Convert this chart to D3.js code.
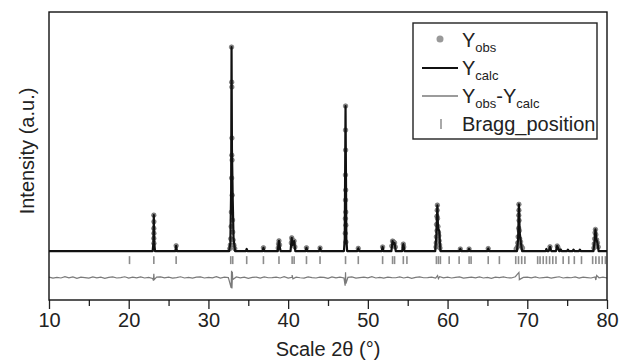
<!DOCTYPE html>
<html>
<head>
<meta charset="utf-8">
<script src="https://cdn.jsdelivr.net/npm/d3@7"></script>
<style>
  body { margin: 0; background: #fff; }
  svg { font-family: "Liberation Sans", Arial, sans-serif; }
</style>
</head>
<body>
<div id="chart"></div>
<script>
// Rietveld refinement plot: observed dots, calculated profile, difference, Bragg marks

// calculated profile [2theta, intensity]
const calcPoints = [
  [10, 0],
  [23.0, 0], [23.1, 40], [23.15, 176], [23.2, 40], [23.3, 0],
  [25.85, 0], [25.95, 26], [26.05, 0],
  [32.6, 0], [32.75, 40], [32.85, 300], [32.9, 1000], [32.95, 500], [33.05, 250], [33.15, 60], [33.35, 0],
  [34.7, 0], [34.8, 10], [34.9, 0],
  [36.8, 0], [36.9, 16], [37.0, 0],
  [38.7, 0], [38.8, 35], [38.85, 50], [38.95, 20], [39.05, 0],
  [40.3, 0], [40.45, 65], [40.55, 30], [40.75, 49], [40.9, 0],
  [42.2, 0], [42.3, 16], [42.4, 0],
  [43.9, 0], [44.0, 15], [44.1, 0],
  [47.0, 0], [47.1, 60], [47.2, 711], [47.3, 60], [47.4, 0],
  [48.7, 0], [48.8, 13], [48.9, 0],
  [51.75, 0], [51.85, 20], [51.95, 0],
  [52.95, 0], [53.1, 49], [53.2, 35], [53.35, 40], [53.5, 0],
  [54.3, 0], [54.45, 34], [54.6, 0],
  [58.45, 0], [58.6, 80], [58.72, 224], [58.8, 110], [58.95, 100], [59.1, 0],
  [61.5, 0], [61.6, 10], [61.7, 0],
  [62.6, 0], [62.7, 10], [62.8, 0],
  [65.0, 0], [65.1, 12], [65.2, 0],
  [68.7, 0], [68.85, 60], [68.95, 229], [69.05, 90], [69.2, 40], [69.35, 0],
  [72.3, 0], [72.4, 10], [72.5, 0],
  [72.7, 0], [72.85, 21], [73.0, 0],
  [73.6, 0], [73.75, 25], [73.9, 10], [74.0, 0],
  [74.1, 0], [74.2, 8], [74.3, 0],
  [75.0, 0], [75.1, 7], [75.2, 0],
  [75.7, 0], [75.8, 7], [75.9, 0],
  [76.5, 0], [76.6, 7], [76.7, 0],
  [78.3, 0], [78.45, 50], [78.55, 106], [78.65, 60], [78.8, 40], [78.95, 0],
  [80, 0]
];

// observed points that stand out of the line
const obsPoints = [
  [23.15, 176], [23.16, 144], [23.15, 111], [23.16, 87], [23.15, 62], [23.16, 38],
  [25.95, 26],
  [32.9, 1000], [32.92, 828], [32.94, 804], [32.95, 554], [32.93, 470], [32.97, 446],
  [32.91, 358], [32.98, 274], [32.88, 191], [33.02, 152], [32.85, 120], [33.05, 93],
  [32.8, 60], [33.1, 54], [32.75, 30], [33.2, 29], [32.68, 12], [33.3, 12],
  [36.9, 16], [38.85, 50], [38.8, 35], [38.92, 30], [38.75, 15],
  [40.45, 65], [40.5, 55], [40.4, 40], [40.75, 49], [40.7, 35], [40.6, 30], [40.85, 20],
  [42.3, 16], [44.0, 15],
  [47.2, 711], [47.2, 593], [47.21, 495], [47.19, 373], [47.22, 299], [47.2, 250],
  [47.23, 191], [47.18, 159], [47.24, 127], [47.17, 87], [47.25, 44],
  [48.8, 13], [51.85, 20],
  [53.1, 49], [53.2, 45], [53.35, 40], [53.0, 25], [53.45, 20], [54.45, 34], [54.5, 20],
  [58.72, 225], [58.7, 200], [58.66, 170], [58.74, 160], [58.62, 130], [58.8, 120],
  [58.68, 100], [58.85, 90], [58.6, 70], [58.9, 75], [58.95, 50], [58.58, 40],
  [59.0, 30], [58.55, 20], [59.05, 15],
  [61.6, 10], [62.7, 10], [65.1, 12],
  [68.95, 229], [68.95, 200], [68.93, 175], [68.97, 150], [68.92, 112], [69.0, 100],
  [68.85, 70], [69.05, 60], [68.8, 40], [69.15, 45], [68.75, 20], [69.25, 25],
  [69.4, 15], [68.6, 10],
  [72.85, 21], [73.75, 25], [73.85, 18],
  [78.55, 106], [78.5, 90], [78.6, 80], [78.45, 60], [78.7, 55], [78.4, 35],
  [78.8, 40], [78.9, 20], [78.35, 15]
];

// difference curve: background noise every 0.5 deg from 10 to 80, plus spikes at strong peaks
const diffNoise = [
  2, -3, 1, -2, 4, -1, 3, -4, 2, 0, -3, 3, -1, 2, -4, 1, 3, -2, 0, 4,
  -3, 2, -1, 3, -2, 1, -4, 2, 3, -1, 2, -3, 0, 4, -2, 1, -3, 2, 3, -2,
  1, -1, 4, -3, 2, 0, -2, 3, -1, 2, -4, 1, 2, -3, 3, -1, 0, 2, -2, 4,
  -3, 1, 2, -1, -3, 3, 0, -2, 2, 1, -4, 3, -1, 2, -2, 1, 3, -3, 0, 2,
  -1, 4, -2, 1, -3, 2, 0, -1, 3, -2, 2, -4, 1, 3, -1, 0, 2, -3, 4, -1,
  2, -2, 1, 3, -3, 0, 2, -1, 3, -2, 1, -4, 2, 0, 3, -1, -2, 4, -3, 1,
  2, -1, 3, -2, 0, 2, -3, 1, 4, -2, 1, -1, 3, -3, 2, 0, -2, 3, -1, 2, -2
];
const diffSpikes = [
  [23.1, -15], [23.15, 18], [23.2, -10],
  [32.85, -50], [32.9, 33], [32.95, -54], [33.0, 28], [33.05, -10],
  [40.5, 12], [40.6, -6],
  [47.15, -40], [47.2, 26], [47.25, -30],
  [58.75, 10], [58.85, -6],
  [68.95, 25], [69.0, -10],
  [78.6, -12], [78.7, 10]
];
const diffOffset = -130;

// Bragg reflection positions
const braggPos = [
  20.1, 23.15, 25.95, 32.8, 33.05, 34.8, 36.9, 38.85, 40.5, 40.75, 42.3, 44.0,
  47.2, 48.8, 51.85, 53.1, 53.35, 54.45, 54.9, 58.6, 58.85, 59.1, 60.2, 61.45,
  62.7, 62.95, 65.1, 66.5, 68.55, 68.9, 69.3, 69.7, 71.3, 71.6, 72.0, 72.4,
  72.8, 73.2, 73.6, 74.5, 75.2, 75.9, 76.8, 78.2, 78.6, 79.0, 79.4, 79.8
];
const braggTop = -25, braggBottom = -64;

const xMajorTicks = [10, 20, 30, 40, 50, 60, 70, 80];
const xMinorTicks = [15, 25, 35, 45, 55, 65, 75];

const width = 619, height = 363;
const margin = {top: 12, right: 12, bottom: 63, left: 49};
const plotW = width - margin.left - margin.right;
const plotH = height - margin.top - margin.bottom;

const svg = d3.select('#chart').append('svg')
    .attr('width', width)
    .attr('height', height);

const g = svg.append('g')
    .attr('transform', 'translate(' + margin.left + ',' + margin.top + ')');

const x = d3.scaleLinear().domain([10, 80]).range([0, plotW]);
const y = d3.scaleLinear().domain([-240, 1172]).range([plotH, 0]);

// bottom axis, major and minor ticks pointing outward
g.append('g')
    .attr('transform', 'translate(0,' + plotH + ')')
    .call(d3.axisBottom(x).tickValues(xMinorTicks).tickSize(6).tickFormat(''))
    .call(a => a.select('.domain').remove())
    .selectAll('line').attr('stroke', '#222').attr('stroke-width', 1.3);

const xAxis = g.append('g')
    .attr('transform', 'translate(0,' + plotH + ')')
    .call(d3.axisBottom(x).tickValues(xMajorTicks).tickSize(9).tickPadding(4).tickFormat(d3.format('d')));
xAxis.select('.domain').remove();
xAxis.selectAll('line').attr('stroke', '#222').attr('stroke-width', 1.3);
xAxis.selectAll('text')
    .attr('font-size', 20)
    .attr('font-family', '"Liberation Sans", Arial, sans-serif')
    .attr('fill', '#222');

// difference curve
const diffData = diffNoise.map((v, i) => [10 + i * 0.5, v])
    .concat(diffSpikes)
    .sort((a, b) => a[0] - b[0]);

g.append('path')
    .datum(diffData)
    .attr('fill', 'none')
    .attr('stroke', '#7a7a7a')
    .attr('stroke-width', 1.2)
    .attr('d', d3.line().x(d => x(d[0])).y(d => y(d[1] + diffOffset)));

// Bragg marks
g.selectAll('.bragg')
    .data(braggPos)
    .enter().append('line')
    .attr('class', 'bragg')
    .attr('x1', d => x(d)).attr('x2', d => x(d))
    .attr('y1', y(braggTop)).attr('y2', y(braggBottom))
    .attr('stroke', '#8c8c8c')
    .attr('stroke-width', 1.6);

// observed points
g.selectAll('.obs')
    .data(obsPoints)
    .enter().append('circle')
    .attr('class', 'obs')
    .attr('cx', d => x(d[0]))
    .attr('cy', d => y(d[1]))
    .attr('r', 2.3)
    .attr('fill', '#8a8a8a')
    .attr('stroke', '#555')
    .attr('stroke-width', 0.5);

// calculated profile
g.append('path')
    .datum(calcPoints)
    .attr('fill', 'none')
    .attr('stroke', '#111')
    .attr('stroke-width', 2.2)
    .attr('stroke-linejoin', 'round')
    .attr('d', d3.line().x(d => x(d[0])).y(d => y(d[1])));

// frame
g.append('rect')
    .attr('width', plotW)
    .attr('height', plotH)
    .attr('fill', 'none')
    .attr('stroke', '#111')
    .attr('stroke-width', 1.4);

// axis titles
svg.append('text')
    .attr('x', margin.left + plotW / 2)
    .attr('y', 356)
    .attr('text-anchor', 'middle')
    .attr('font-size', 20)
    .attr('fill', '#222')
    .text('Scale 2θ (°)');

svg.append('text')
    .attr('transform', 'translate(34,151) rotate(-90)')
    .attr('text-anchor', 'middle')
    .attr('font-size', 20)
    .attr('fill', '#222')
    .text('Intensity (a.u.)');

// legend
const legend = svg.append('g');
legend.append('rect')
    .attr('x', 413).attr('y', 23)
    .attr('width', 184).attr('height', 116)
    .attr('fill', '#fff')
    .attr('stroke', '#222')
    .attr('stroke-width', 1.4);

legend.append('circle').attr('cx', 440).attr('cy', 39).attr('r', 3.5).attr('fill', '#999');
legend.append('line').attr('x1', 422).attr('x2', 458).attr('y1', 68).attr('y2', 68)
    .attr('stroke', '#111').attr('stroke-width', 2);
legend.append('line').attr('x1', 422).attr('x2', 458).attr('y1', 96).attr('y2', 96)
    .attr('stroke', '#7a7a7a').attr('stroke-width', 1.5);
legend.append('line').attr('x1', 441).attr('x2', 441).attr('y1', 119).attr('y2', 129)
    .attr('stroke', '#8c8c8c').attr('stroke-width', 1.5);

function legendLabel(yPos, parts) {
  const t = legend.append('text')
      .attr('x', 462).attr('y', yPos)
      .attr('font-size', 20)
      .attr('fill', '#222');
  parts.forEach(p => {
    t.append('tspan')
        .attr('dy', p.dy || 0)
        .attr('font-size', p.sub ? 13 : 20)
        .text(p.text);
  });
}
legendLabel(47, [{text: 'Y'}, {text: 'obs', sub: true, dy: 5}]);
legendLabel(75, [{text: 'Y'}, {text: 'calc', sub: true, dy: 5}]);
legendLabel(103, [{text: 'Y'}, {text: 'obs', sub: true, dy: 5}, {text: '-', dy: -5},
  {text: 'Y'}, {text: 'calc', sub: true, dy: 5}]);
legendLabel(131, [{text: 'Bragg_position'}]);
</script>
</body>
</html>
